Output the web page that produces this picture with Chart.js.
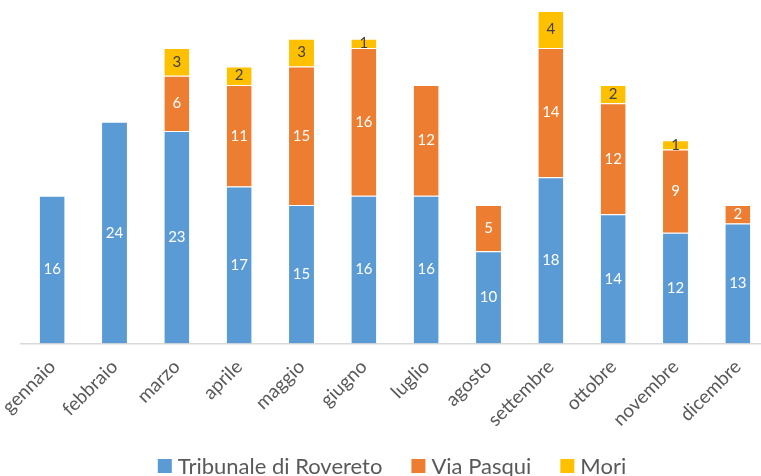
<!DOCTYPE html>
<html>
<head>
<meta charset="utf-8">
<script src="https://cdn.jsdelivr.net/npm/chart.js@4/dist/chart.umd.min.js"></script>
<style>
  html, body { margin: 0; padding: 0; background: #fff; overflow: hidden; }
  #wrap { width: 769px; height: 476px; }
</style>
</head>
<body>
<div id="wrap"><canvas id="chart" width="769" height="476"></canvas></div>
<script>
// mesi e valori
const months = ["gennaio", "febbraio", "marzo", "aprile", "maggio", "giugno",
  "luglio", "agosto", "settembre", "ottobre", "novembre", "dicembre"];
const tribunale = [16, 24, 23, 17, 15, 16, 16, 10, 18, 14, 12, 13];
const viaPasqui = [null, null, 6, 11, 15, 16, 12, 5, 14, 12, 9, 2];
const mori = [null, null, 3, 2, 3, 1, null, null, 4, 2, 1, null];

const font = "Lato, 'Open Sans', sans-serif";

// etichette dentro le barre
const barLabels = {
  id: "barLabels",
  afterDatasetsDraw(chart) {
    const ctx = chart.ctx;
    ctx.save();
    ctx.font = "15px " + font;
    ctx.textAlign = "center";
    ctx.textBaseline = "middle";
    chart.data.datasets.forEach((ds, i) => {
      const meta = chart.getDatasetMeta(i);
      meta.data.forEach((bar, j) => {
        const v = ds.data[j];
        if (v == null) return;
        ctx.fillStyle = ds.labelColor;
        ctx.fillText(String(v), bar.x, (bar.y + bar.base) / 2);
      });
    });
    ctx.restore();
  }
};

// legenda in basso, disegnata a mano per avere le spaziature di Excel
const bottomLegend = {
  id: "bottomLegend",
  afterDraw(chart) {
    const ctx = chart.ctx;
    const box = 14, gapText = 6, gapItem = 29, y = 466;
    ctx.save();
    ctx.font = "22px " + font;
    ctx.textBaseline = "middle";
    const items = chart.data.datasets.map(ds => ({
      label: ds.label, color: ds.backgroundColor, w: ctx.measureText(ds.label).width
    }));
    const total = items.reduce((s, it) => s + box + gapText + it.w, 0) + gapItem * (items.length - 1);
    let x = (chart.chartArea.left + chart.chartArea.right) / 2 - total / 2 - 3;
    items.forEach(it => {
      ctx.fillStyle = it.color;
      ctx.fillRect(x, y - box / 2, box, box);
      x += box + gapText;
      ctx.fillStyle = "#595959";
      ctx.fillText(it.label, x, y + 1);
      x += it.w + gapItem;
    });
    ctx.restore();
  }
};

new Chart(document.querySelector("#chart").getContext("2d"), {
  type: "bar",
  data: {
    labels: months,
    datasets: [
      { label: "Tribunale di Rovereto", data: tribunale, backgroundColor: "#5B9BD5", labelColor: "#ffffff" },
      { label: "Via Pasqui", data: viaPasqui, backgroundColor: "#ED7D31", labelColor: "#ffffff" },
      { label: "Mori", data: mori, backgroundColor: "#FFC000", labelColor: "#404040" }
    ]
  },
  options: {
    responsive: false,
    animation: false,
    layout: { padding: { left: 21, right: 0, top: 11, bottom: 49 } },
    datasets: {
      bar: {
        categoryPercentage: 1,
        barPercentage: 0.4,
        borderColor: "#ffffff",
        borderWidth: { top: 1, left: 0, right: 0, bottom: 0 },
        borderSkipped: false
      }
    },
    scales: {
      x: {
        stacked: true,
        grid: { display: false, drawTicks: false },
        border: { color: "#d9d9d9", width: 1.5 },
        ticks: {
          color: "#595959",
          minRotation: 45,
          maxRotation: 45,
          padding: 12,
          font: { family: font, size: 19 }
        },
        afterFit(scale) {
          scale.paddingLeft = 0;
          scale.paddingRight = 0;
          scale.height = 83.5;
        }
      },
      y: {
        stacked: true,
        display: false,
        min: 0,
        max: 36
      }
    },
    plugins: {
      tooltip: { enabled: false },
      legend: { display: false }
    }
  },
  plugins: [barLabels, bottomLegend]
});
</script>
</body>
</html>
